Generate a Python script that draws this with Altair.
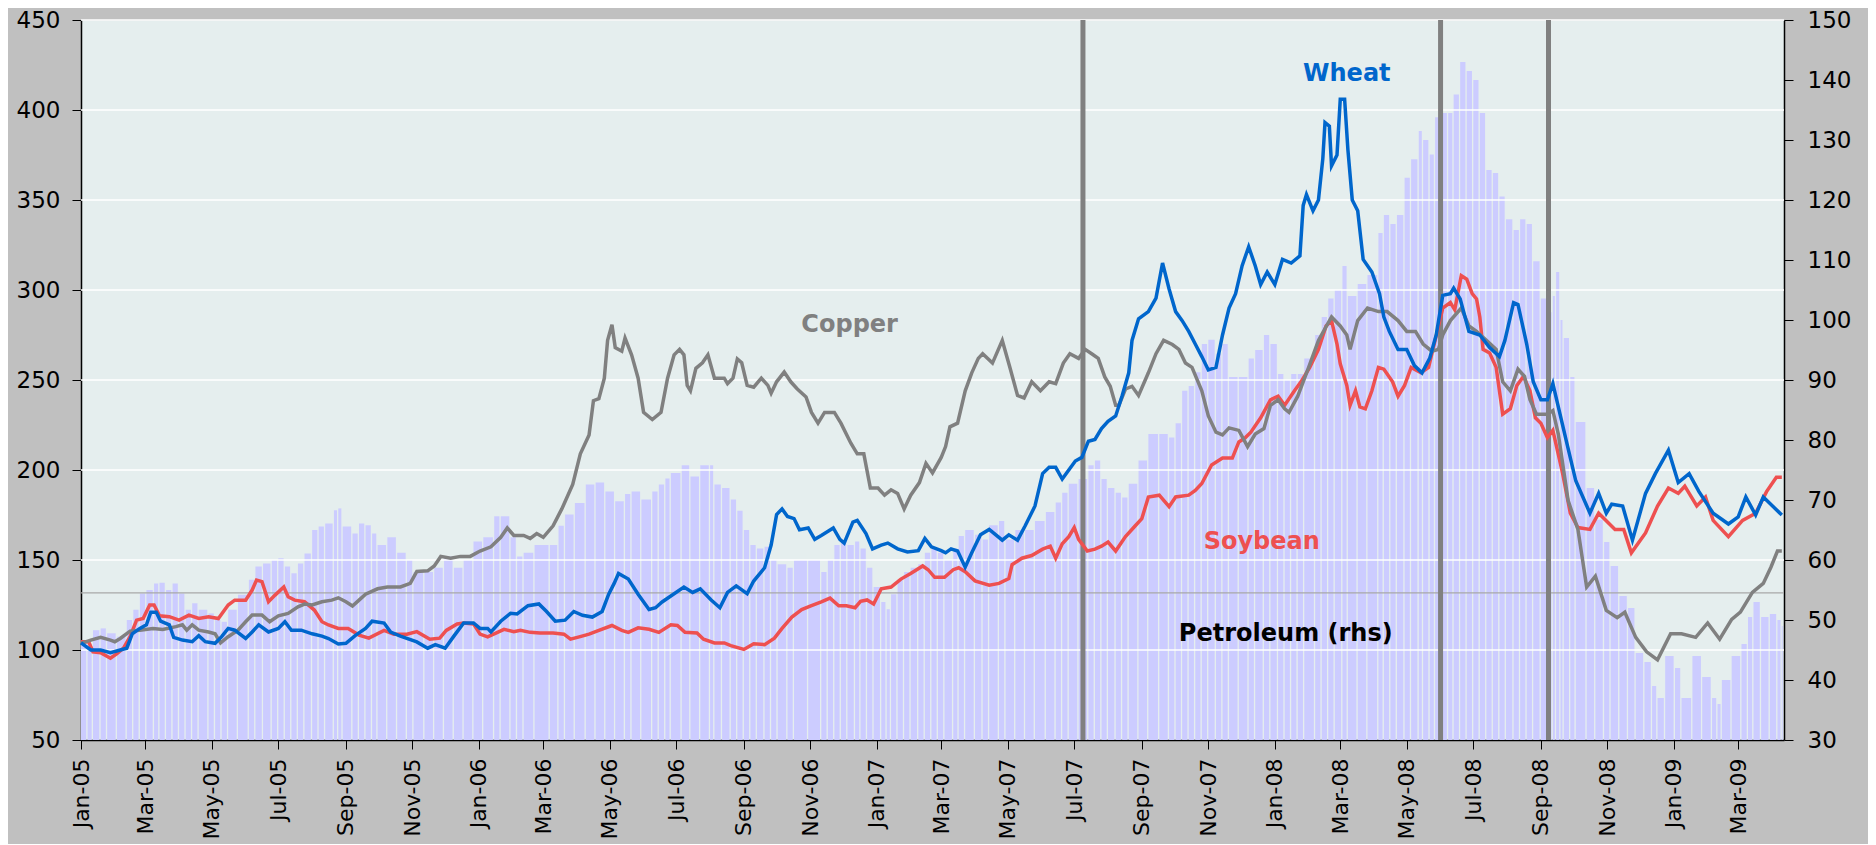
import altair as alt
import pandas as pd

# ---------------- data ----------------
wheat_dates = ["2005-01-01","2005-01-10","2005-01-19","2005-01-28","2005-02-06","2005-02-12","2005-02-17","2005-02-24","2005-03-02","2005-03-06","2005-03-11","2005-03-15","2005-03-23","2005-03-27","2005-04-04","2005-04-13","2005-04-19","2005-04-25","2005-05-04","2005-05-10","2005-05-16","2005-05-22","2005-06-01","2005-06-07","2005-06-13","2005-06-22","2005-07-01","2005-07-07","2005-07-13","2005-07-22","2005-08-01","2005-08-10","2005-08-16","2005-08-25","2005-09-01","2005-09-10","2005-09-19","2005-09-25","2005-10-06","2005-10-12","2005-10-21","2005-11-05","2005-11-15","2005-11-22","2005-12-01","2005-12-09","2005-12-18","2005-12-27","2006-01-02","2006-01-09","2006-01-12","2006-01-21","2006-01-30","2006-02-05","2006-02-15","2006-02-25","2006-03-04","2006-03-12","2006-03-21","2006-03-29","2006-04-06","2006-04-15","2006-04-24","2006-04-30","2006-05-05","2006-05-09","2006-05-18","2006-05-27","2006-06-06","2006-06-12","2006-06-18","2006-06-26","2006-07-08","2006-07-16","2006-07-23","2006-08-02","2006-08-10","2006-08-17","2006-08-25","2006-09-04","2006-09-10","2006-09-20","2006-09-26","2006-10-01","2006-10-06","2006-10-11","2006-10-17","2006-10-22","2006-10-30","2006-11-05","2006-11-11","2006-11-22","2006-11-28","2006-12-02","2006-12-10","2006-12-14","2006-12-22","2006-12-28","2007-01-05","2007-01-11","2007-01-20","2007-01-29","2007-02-08","2007-02-14","2007-02-20","2007-03-01","2007-03-05","2007-03-10","2007-03-16","2007-03-23","2007-03-29","2007-04-06","2007-04-14","2007-04-26","2007-05-02","2007-05-10","2007-05-17","2007-05-26","2007-06-02","2007-06-08","2007-06-14","2007-06-20","2007-06-26","2007-07-02","2007-07-08","2007-07-14","2007-07-20","2007-07-26","2007-08-01","2007-08-08","2007-08-14","2007-08-20","2007-08-23","2007-08-29","2007-09-07","2007-09-14","2007-09-20","2007-09-26","2007-10-02","2007-10-08","2007-10-14","2007-10-20","2007-10-26","2007-11-01","2007-11-08","2007-11-14","2007-11-20","2007-11-26","2007-12-02","2007-12-08","2007-12-14","2007-12-19","2007-12-25","2008-01-01","2008-01-08","2008-01-16","2008-01-24","2008-01-27","2008-01-30","2008-02-05","2008-02-10","2008-02-14","2008-02-16","2008-02-20","2008-02-22","2008-02-27","2008-03-01","2008-03-05","2008-03-08","2008-03-12","2008-03-17","2008-03-22","2008-03-30","2008-04-06","2008-04-10","2008-04-15","2008-04-23","2008-05-01","2008-05-08","2008-05-15","2008-05-22","2008-05-28","2008-06-03","2008-06-10","2008-06-13","2008-06-19","2008-06-27","2008-07-07","2008-07-16","2008-07-25","2008-07-30","2008-08-07","2008-08-11","2008-08-19","2008-08-25","2008-09-01","2008-09-07","2008-09-12","2008-09-24","2008-10-03","2008-10-16","2008-10-24","2008-10-31","2008-11-05","2008-11-15","2008-11-24","2008-12-06","2008-12-15","2008-12-27","2009-01-05","2009-01-15","2009-01-24","2009-02-06","2009-02-20","2009-03-01","2009-03-08","2009-03-17","2009-03-24","2009-04-10"]
wheat_vals = [104,100,100,98.5,100,101,109,112,114,121,121,116,114,107,105.5,104.6,108,104.6,103.7,107.4,112,111,106.4,110,114,110,112,115.7,111,111,109,107.7,106.4,103.3,103.7,108.3,112,116,115,110,107.7,104.5,101,103,101,107.7,115,115,112,112,110,116,120.4,120,124.6,125.6,121.4,116,116.6,121.4,119.3,118.3,121.4,131,137,142.5,139.4,131,122.5,123.5,126.7,130,135,132,134,127.8,123.5,132,135.6,131.3,138.3,145.7,158.3,175.2,178.4,174.2,173,166.8,167.8,161.5,163.6,167.8,161.5,159.4,171,172,164.7,156.2,158.3,159.4,156.2,154.5,155.2,162,157.3,155.2,154,156.2,155,146,154,164,167,161,164,161,169,180,198,201.5,201.5,195,200,205,207,216,217,223,227,230,241.4,254,272,284,288,295.5,315,300.6,288,283,277,270,263,255.6,257,275,290,298,313.5,324,313.5,303,310,303,317,315,319,347,353,344,350,373,393,391,369,375,406,406,378,350,344,317,310,298,285,277,267,267,258,254,262,275,297,298,301,295,277,275,268,263,272,293,292,270,249,239,239,248,217,194,176,187,176,181,180,161,187,198,211,193,198,188,176,170,174,185,175,185,175]

soy_dates = ["2005-01-01","2005-01-08","2005-01-12","2005-01-19","2005-01-28","2005-02-03","2005-02-09","2005-02-15","2005-02-21","2005-02-27","2005-03-05","2005-03-09","2005-03-14","2005-03-23","2005-04-01","2005-04-10","2005-04-19","2005-04-28","2005-05-07","2005-05-16","2005-05-22","2005-06-01","2005-06-07","2005-06-11","2005-06-16","2005-06-22","2005-06-28","2005-07-06","2005-07-10","2005-07-16","2005-07-25","2005-08-03","2005-08-10","2005-08-16","2005-08-25","2005-09-03","2005-09-13","2005-09-22","2005-10-06","2005-10-15","2005-10-27","2005-11-05","2005-11-17","2005-11-26","2005-12-02","2005-12-12","2005-12-18","2005-12-27","2006-01-02","2006-01-09","2006-01-18","2006-01-24","2006-02-02","2006-02-08","2006-02-17","2006-02-26","2006-03-10","2006-03-20","2006-03-26","2006-04-03","2006-04-12","2006-04-21","2006-05-03","2006-05-12","2006-05-18","2006-05-27","2006-06-06","2006-06-15","2006-06-26","2006-07-02","2006-07-09","2006-07-20","2006-07-26","2006-08-05","2006-08-14","2006-08-20","2006-09-01","2006-09-10","2006-09-20","2006-09-29","2006-10-06","2006-10-15","2006-10-24","2006-11-02","2006-11-11","2006-11-19","2006-11-27","2006-12-04","2006-12-12","2006-12-17","2006-12-23","2006-12-29","2007-01-05","2007-01-14","2007-01-23","2007-02-01","2007-02-12","2007-02-17","2007-02-23","2007-03-04","2007-03-12","2007-03-17","2007-03-23","2007-04-01","2007-04-14","2007-04-23","2007-05-02","2007-05-05","2007-05-14","2007-05-23","2007-06-02","2007-06-09","2007-06-14","2007-06-20","2007-06-26","2007-07-01","2007-07-05","2007-07-13","2007-07-20","2007-07-26","2007-08-01","2007-08-08","2007-08-17","2007-08-26","2007-09-01","2007-09-07","2007-09-17","2007-09-26","2007-10-02","2007-10-14","2007-10-20","2007-10-26","2007-11-04","2007-11-14","2007-11-23","2007-11-29","2007-12-05","2007-12-10","2007-12-19","2007-12-28","2008-01-04","2008-01-10","2008-01-19","2008-01-25","2008-02-02","2008-02-10","2008-02-17","2008-02-22","2008-02-27","2008-03-01","2008-03-07","2008-03-10","2008-03-15","2008-03-19","2008-03-24","2008-03-30","2008-04-05","2008-04-10","2008-04-18","2008-04-23","2008-04-29","2008-05-05","2008-05-14","2008-05-21","2008-05-27","2008-06-03","2008-06-10","2008-06-14","2008-06-20","2008-06-25","2008-06-30","2008-07-04","2008-07-07","2008-07-10","2008-07-16","2008-07-22","2008-07-28","2008-08-04","2008-08-10","2008-08-16","2008-08-22","2008-08-27","2008-09-01","2008-09-07","2008-09-12","2008-09-21","2008-09-28","2008-10-05","2008-10-16","2008-10-24","2008-11-08","2008-11-16","2008-11-23","2008-12-06","2008-12-17","2008-12-27","2009-01-05","2009-01-11","2009-01-22","2009-01-30","2009-02-06","2009-02-20","2009-03-05","2009-03-17","2009-03-27","2009-04-05","2009-04-10"]
soy_vals = [104.6,104.6,99,98.5,95.4,98,101,107.4,116.6,117.5,125,125,119,118.5,116.6,119.4,117.5,118.5,117.5,125,127.7,127.7,133.3,138.8,138,126.8,130.5,135,129.6,127.7,126.8,122.2,115.7,113.9,112,112,108.3,106.6,110.9,108.8,108.8,110.2,106,106.6,110.9,114.5,115,114.5,108.8,107.3,109.8,111.5,110.2,110.9,109.8,109.4,109.4,108.8,106,107.3,108.8,110.9,113.6,110.9,109.8,112.3,111.5,109.8,114,113.6,109.8,109.4,106,103.9,103.9,102.4,100.3,103.5,103,106.6,112,118.3,122.5,124.6,126.7,128.8,124.6,124.6,123.5,127,127.8,125.6,134,135,139.4,142.5,146.7,144.6,140.4,140.4,144.6,145.7,143.5,138.4,136,137,139.7,147.4,151,152.5,156,157.7,151,159,163,168,161.5,155,156,157.7,160,155,163,169,173,185,186,179.6,185,186,188.6,192.5,202.8,206.6,206.6,215.6,218,221,229,239,241,236,244,249,257,267,280,283,270,259,247,236,244,235,234,244,257,256,249,241,247,257,254,257,272,290,293,289,308,306,298,295,285,267,265,257,231,234,247,252,244,229,226,218,222,198,176,168,167,176,167,167,154,165,180,190,187,191,180,185,172,163,172,176,188,196,196]

copper_dates = ["2005-01-01","2005-01-10","2005-01-19","2005-01-28","2005-02-01","2005-02-06","2005-02-15","2005-02-24","2005-03-08","2005-03-17","2005-03-29","2005-04-04","2005-04-08","2005-04-13","2005-04-19","2005-04-28","2005-05-04","2005-05-09","2005-05-16","2005-05-25","2005-06-01","2005-06-07","2005-06-16","2005-06-23","2005-07-01","2005-07-10","2005-07-19","2005-07-25","2005-08-01","2005-08-10","2005-08-19","2005-08-25","2005-09-01","2005-09-07","2005-09-13","2005-09-19","2005-09-30","2005-10-09","2005-10-21","2005-10-30","2005-11-05","2005-11-15","2005-11-21","2005-11-27","2005-12-06","2005-12-15","2005-12-24","2006-01-02","2006-01-12","2006-01-21","2006-01-27","2006-02-02","2006-02-11","2006-02-17","2006-02-23","2006-03-01","2006-03-10","2006-03-18","2006-03-28","2006-04-04","2006-04-12","2006-04-16","2006-04-21","2006-04-26","2006-04-29","2006-05-03","2006-05-06","2006-05-12","2006-05-15","2006-05-21","2006-05-27","2006-06-01","2006-06-09","2006-06-17","2006-06-23","2006-06-29","2006-07-04","2006-07-08","2006-07-11","2006-07-14","2006-07-19","2006-07-25","2006-07-30","2006-08-05","2006-08-14","2006-08-17","2006-08-22","2006-08-26","2006-08-30","2006-09-04","2006-09-10","2006-09-17","2006-09-23","2006-09-26","2006-10-01","2006-10-08","2006-10-14","2006-10-20","2006-10-28","2006-11-02","2006-11-08","2006-11-14","2006-11-23","2006-11-29","2006-12-08","2006-12-14","2006-12-20","2006-12-26","2007-01-02","2007-01-08","2007-01-14","2007-01-20","2007-01-26","2007-02-01","2007-02-09","2007-02-15","2007-02-21","2007-03-01","2007-03-05","2007-03-09","2007-03-16","2007-03-23","2007-03-29","2007-04-04","2007-04-08","2007-04-17","2007-04-26","2007-05-03","2007-05-10","2007-05-16","2007-05-23","2007-05-31","2007-06-08","2007-06-14","2007-06-21","2007-06-27","2007-07-05","2007-07-11","2007-07-17","2007-07-23","2007-07-29","2007-08-03","2007-08-08","2007-08-11","2007-08-17","2007-08-23","2007-08-29","2007-09-07","2007-09-14","2007-09-21","2007-09-29","2007-10-05","2007-10-11","2007-10-17","2007-10-26","2007-11-01","2007-11-08","2007-11-14","2007-11-20","2007-11-29","2007-12-07","2007-12-14","2007-12-22","2007-12-28","2008-01-04","2008-01-10","2008-01-14","2008-01-22","2008-02-01","2008-02-10","2008-02-22","2008-03-01","2008-03-07","2008-03-10","2008-03-17","2008-03-26","2008-04-05","2008-04-13","2008-04-23","2008-05-01","2008-05-09","2008-05-16","2008-05-24","2008-05-30","2008-06-03","2008-06-10","2008-06-20","2008-06-27","2008-07-04","2008-07-13","2008-07-22","2008-07-28","2008-08-04","2008-08-11","2008-08-17","2008-08-22","2008-08-28","2008-09-07","2008-09-12","2008-09-17","2008-09-26","2008-10-05","2008-10-13","2008-10-21","2008-10-31","2008-11-10","2008-11-17","2008-11-27","2008-12-07","2008-12-17","2008-12-29","2009-01-08","2009-01-21","2009-02-01","2009-02-12","2009-02-23","2009-03-03","2009-03-14","2009-03-24","2009-03-31","2009-04-06","2009-04-10"]
copper_vals = [103.7,105.5,107,105.5,104.6,106.4,110.5,111,112,111.4,113,114,111,114,111,110,109,104,107.4,111,115.7,119.4,119.4,115.7,119,120.3,124,125.5,125,126.8,127.7,129,126.8,124.4,127.7,131,134,135,135,137,143.6,144,146.7,152,151,152,152,155,157.3,162.6,167.8,163.6,163.6,162,164.7,162.6,169,178.4,192,209,219.5,238.5,239.6,251,272,280.7,268,266,273.3,264,251,232,228,232,251,264,267,264,247,244,256.5,259.6,264,251,251,248,251,261.7,259.6,247,246,251,247,242.7,249,254.4,249,245,240.6,232,226,232,232,226,215,209,209,190,190,186,189,187,178.4,186,193,203.7,198.4,207,213,224,226,244,254,262,264.6,259.4,272,257,241.4,240,249,244,249,248,259.4,264.6,262,267,264.6,262,251.7,246.5,236,236,245,246.5,241.4,254,264.6,272,269.7,267,259.4,257,244,230,221,219.5,223.4,222,213,220,223,236,239,234,232,241,257,272,285,280,275,267,283,290,288,288,283,277,277,270,266,267,275,283,290,280,277,272,267,249,244,256,252,239,231,231,233,220,183,167,135,141,122,118,121,107,99,94.5,109,109,107,115,106,117,121,132,137,146,155,155]

petro_dates = ["2005-01-01","2005-01-07","2005-01-12","2005-01-19","2005-01-25","2005-02-03","2005-02-12","2005-02-18","2005-02-24","2005-03-02","2005-03-09","2005-03-14","2005-03-20","2005-03-26","2005-04-01","2005-04-07","2005-04-13","2005-04-19","2005-04-28","2005-05-04","2005-05-10","2005-05-16","2005-05-25","2005-06-04","2005-06-10","2005-06-17","2005-06-25","2005-07-01","2005-07-07","2005-07-13","2005-07-19","2005-07-25","2005-08-01","2005-08-07","2005-08-13","2005-08-21","2005-08-25","2005-08-29","2005-09-07","2005-09-13","2005-09-19","2005-09-25","2005-09-30","2005-10-09","2005-10-18","2005-10-27","2005-11-02","2005-11-12","2005-11-21","2005-11-30","2005-12-09","2005-12-18","2005-12-27","2006-01-05","2006-01-15","2006-01-21","2006-01-30","2006-02-05","2006-02-11","2006-02-21","2006-03-07","2006-03-15","2006-03-21","2006-03-30","2006-04-09","2006-04-18","2006-04-27","2006-05-06","2006-05-15","2006-05-21","2006-05-30","2006-06-09","2006-06-15","2006-06-21","2006-06-26","2006-07-06","2006-07-14","2006-07-23","2006-08-01","2006-08-05","2006-08-12","2006-08-20","2006-08-26","2006-09-01","2006-09-07","2006-09-13","2006-09-20","2006-09-26","2006-10-02","2006-10-11","2006-10-17","2006-10-30","2006-11-11","2006-11-17","2006-11-23","2006-11-29","2006-12-05","2006-12-12","2006-12-17","2006-12-23","2006-12-29","2007-01-05","2007-01-10","2007-01-14","2007-01-20","2007-01-26","2007-02-01","2007-02-08","2007-02-14","2007-02-20","2007-02-26","2007-03-04","2007-03-12","2007-03-17","2007-03-23","2007-04-01","2007-04-08","2007-04-14","2007-04-23","2007-04-29","2007-05-08","2007-05-17","2007-05-26","2007-06-05","2007-06-14","2007-06-20","2007-06-26","2007-07-05","2007-07-14","2007-07-20","2007-07-26","2007-08-01","2007-08-08","2007-08-14","2007-08-20","2007-08-29","2007-09-07","2007-09-17","2007-09-26","2007-10-02","2007-10-08","2007-10-14","2007-10-20","2007-10-26","2007-11-01","2007-11-08","2007-11-14","2007-11-20","2007-11-29","2007-12-08","2007-12-14","2007-12-22","2007-12-28","2008-01-04","2008-01-10","2008-01-16","2008-01-22","2008-01-28","2008-02-07","2008-02-13","2008-02-19","2008-02-25","2008-03-03","2008-03-08","2008-03-17","2008-03-26","2008-04-05","2008-04-10","2008-04-16","2008-04-22","2008-04-29","2008-05-05","2008-05-12","2008-05-16","2008-05-22","2008-05-27","2008-06-02","2008-06-08","2008-06-13","2008-06-19","2008-06-25","2008-07-01","2008-07-07","2008-07-13","2008-07-19","2008-07-25","2008-07-31","2008-08-07","2008-08-13","2008-08-19","2008-08-25","2008-09-01","2008-09-07","2008-09-12","2008-09-15","2008-09-19","2008-09-22","2008-09-28","2008-10-03","2008-10-13","2008-10-21","2008-10-29","2008-11-04","2008-11-12","2008-11-20","2008-11-27","2008-12-05","2008-12-12","2008-12-17","2008-12-24","2009-01-02","2009-01-08","2009-01-18","2009-01-27","2009-02-05","2009-02-10","2009-02-14","2009-02-23","2009-03-04","2009-03-10","2009-03-15","2009-03-22","2009-03-30","2009-04-06","2009-04-10"]
petro_vals = [46.4,46,48.3,48.6,47.8,47.2,50,51.7,54.4,55,56.1,56.2,55,56.1,54.4,51.7,52.8,51.7,51.1,50,49.7,51.7,54.2,56.7,58.9,59.4,60,60.3,58.9,57.8,59.4,61.1,65,65.6,66.1,68.3,68.6,65.6,64.4,66.1,65.8,64.4,62.5,63.8,61.2,60,58,58,58.7,60.6,58.7,60,63.1,63.8,67.3,67.3,63.8,60.6,61.2,62.5,62.5,65.7,67.6,69.5,72.6,72.9,71.4,69.8,71,71.4,70.1,71.4,72.6,73.6,74.5,75.8,73.9,75.8,75.8,72.6,72,70.1,68.2,65,62.5,61.9,62.2,60,59.3,58.7,60,60,58,60,62.5,63.1,62.5,63.1,61.9,58.7,55.5,53,51.8,54.3,56.8,58,58.7,59.3,61.2,61.9,61.2,60,61.9,64,65,64.2,63.4,65.8,66.5,63.4,65,65,66.5,68,69.6,71.2,72.7,73.5,75.8,76.6,73.5,72,71.2,70.4,72.7,76.6,81,81,80.4,82.8,88.2,89,91.3,96,96.7,94.4,96,90.5,90.5,93.6,95,97.5,96,91,90,91,91,93.6,97.5,100.5,103.6,105,109,104,106,107.5,114.5,117.5,116,117.5,123.7,126.8,131.5,130,127.6,133.8,134.5,134.5,137.6,143,141.5,140,134.5,125,124.5,120.6,116.8,115,116.8,116,109.8,103.6,101.3,104,108,100,97,90.5,83,72,66.7,63,59,54,52,44.5,43,39,37,44,42,37,44,40.5,37,36,40,44,46,50.5,53,50.5,51,50,49]

event_dates = ["2007-07-09", "2008-06-01", "2008-09-08"]
ref_level = [131.7]
left_ticks = [50, 100, 150, 200, 250, 300, 350, 400, 450]
right_ticks = [30, 40, 50, 60, 70, 80, 90, 100, 110, 120, 130, 140, 150]
grid_levels = [100, 150, 200, 250, 300, 350, 400, 450]

label_text = ["Wheat", "Copper", "Soybean", "Petroleum (rhs)"]
label_date = ["2008-03-07", "2006-12-07", "2007-12-20", "2008-01-11"]
label_value = [420, 280.5, 160, 109]
label_color = ["#0066CC", "#808080", "#EE5050", "#000000"]
label_size = [24, 24, 24, 24]

x_start = "2005-01-01"
x_end = "2009-04-12"

# ---------------- frames ----------------
def frame(dates, vals):
    return pd.DataFrame({"date": pd.to_datetime(dates), "value": vals})

wheat = frame(wheat_dates, wheat_vals)
soy = frame(soy_dates, soy_vals)
copper = frame(copper_dates, copper_vals)
petro = frame(petro_dates, petro_vals)
petro["next"] = petro["date"].shift(-1)
petro.loc[petro.index[-1], "next"] = pd.Timestamp(x_end)

events = pd.DataFrame({"date": pd.to_datetime(event_dates)})
refs = pd.DataFrame({"value": ref_level})
grids = pd.DataFrame({"value": grid_levels})
labels = pd.DataFrame({"text": label_text, "date": pd.to_datetime(label_date),
                       "value": label_value, "color": label_color, "size": label_size})

FONT = "DejaVu Sans"

x_scale = alt.Scale(domain=[alt.DateTime(year=2005, month=1, date=1),
                            alt.DateTime(year=2009, month=4, date=12)])
x_axis = alt.Axis(format="%b-%y", labelAngle=270, tickCount={"interval": "month", "step": 2},
                  title=None, grid=False, labelFlush=False, labelFontSize=22, labelPadding=9,
                  tickSize=9, tickColor="#000000", domainColor="#000000", domainWidth=1.5,
                  labelColor="#000000", labelFont=FONT, labelOverlap=False)
X = alt.X("date:T", scale=x_scale, axis=x_axis)

left_scale = alt.Scale(domain=[50, 450], nice=False, zero=False)
left_axis = alt.Axis(values=left_ticks, title=None, grid=False, tickSize=9, tickColor="#000000",
                     domainColor="#000000", domainWidth=1.5, labelFontSize=23, labelPadding=12,
                     labelColor="#000000", labelFont=FONT)
YL = alt.Y("value:Q", scale=left_scale, axis=left_axis)

right_scale = alt.Scale(domain=[30, 150], nice=False, zero=False)
right_axis = alt.Axis(values=right_ticks, orient="right", title=None, grid=False, tickSize=9,
                      tickColor="#000000", domainColor="#000000", domainWidth=1.5,
                      labelFontSize=23, labelPadding=14, labelColor="#000000", labelFont=FONT)

petro_layer = alt.Chart(petro).mark_bar(color="#CCCCFF", x2Offset=-1.3).encode(
    x=X,
    x2="next:T",
    y=alt.Y("value:Q", scale=right_scale, axis=right_axis),
    y2=alt.datum(30),
)

grid_layer = alt.Chart(grids).mark_rule(color="#FFFFFF", strokeWidth=1.5).encode(y=YL)
ref_layer = alt.Chart(refs).mark_rule(color="#A8A8A8", strokeWidth=1.3).encode(y=YL)
event_layer = alt.Chart(events).mark_rule(color="#808080", strokeWidth=5).encode(x=X)

LW = 3.5
soy_layer = alt.Chart(soy).mark_line(color="#EE5050", strokeWidth=LW).encode(x=X, y=YL)
copper_layer = alt.Chart(copper).mark_line(color="#808080", strokeWidth=LW).encode(x=X, y=YL)
wheat_layer = alt.Chart(wheat).mark_line(color="#0066CC", strokeWidth=LW).encode(x=X, y=YL)

text_layer = alt.Chart(labels).mark_text(font=FONT, fontWeight="bold").encode(
    x=X, y=YL, text="text:N",
    color=alt.Color("color:N", scale=None),
    size=alt.Size("size:Q", scale=None),
)

inner = alt.layer(grid_layer, ref_layer, event_layer, soy_layer, copper_layer,
                  wheat_layer, text_layer)

chart = alt.layer(petro_layer, inner).resolve_scale(y="independent").properties(
    width=1703, height=720,
    autosize=alt.AutoSizeParams(type="none"),
    padding={"left": 73, "top": 12, "right": 84, "bottom": 104},
    background="#C0C0C0",
).configure_view(fill="#E5EEEE", stroke="transparent")

chart.save("out.html", embed_options={"renderer": "svg", "actions": False})
